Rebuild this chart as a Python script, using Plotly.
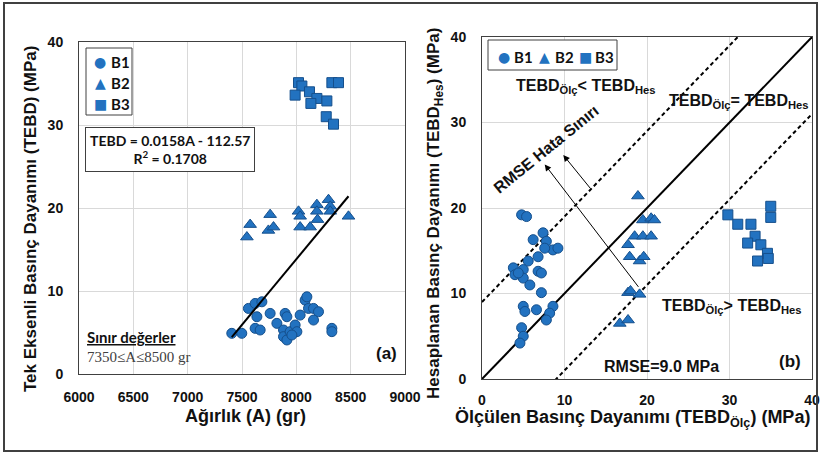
import plotly.graph_objects as go

# ---- (a) Weight vs. uniaxial compressive strength ----
a_b1 = [7406, 7498, 7559, 7621, 7683, 7637, 7621, 7667, 7759, 7821, 7897, 7913, 7882, 7882,
        7913, 7943, 7989, 8005, 8035, 8081, 8097, 8112, 8158, 8204, 8158, 8327, 8327, 7959]
s_b1 = [4.9, 4.9, 7.9, 8.5, 8.7, 6.9, 5.5, 5.3, 7.3, 6.1, 7.3, 6.9, 5.3, 4.5,
        4.1, 5.1, 5.9, 5.1, 7.1, 8.9, 9.3, 7.9, 7.9, 7.5, 6.5, 5.5, 5.1, 4.7]
a_b2 = [7545, 7575, 7743, 7759, 7790, 8020, 8035, 8035, 8127, 8189, 8189, 8195, 8296, 8312, 8312, 8480]
s_b2 = [16.5, 18.0, 17.3, 19.2, 17.7, 19.6, 19.0, 17.7, 17.7, 20.4, 19.6, 18.6, 21.0, 20.2, 19.6, 19.0]
a_b3 = [8020, 8051, 7989, 8121, 8189, 8134, 8281, 8275, 8342, 8327, 8388]
s_b3 = [35.1, 34.7, 33.6, 34.0, 33.2, 32.6, 32.9, 31.0, 30.1, 35.1, 35.1]

# linear fit TEBD = slope*A + intercept
slope = 0.0158
intercept = -112.57

# ---- (b) Measured vs. calculated strength ----
m_b1 = [4.8, 5.4, 7.4, 6.2, 7.8, 8.6, 9.2, 7.6, 6.8, 5.6, 3.8, 5.0, 4.0, 6.8,
        7.2, 5.0, 5.8, 7.2, 5.0, 5.2, 6.6, 8.6, 8.2, 7.8, 4.8, 5.0, 4.6, 4.4]
p_b1 = [19.2, 19.0, 17.1, 16.3, 16.1, 15.1, 15.3, 15.3, 14.3, 13.8, 13.0, 12.8, 12.2, 12.6,
        12.4, 11.8, 11.0, 10.1, 8.5, 7.9, 8.1, 8.5, 7.7, 6.9, 6.0, 5.0, 4.2, 12.4]
m_b2 = [18.9, 19.5, 20.5, 20.9, 18.5, 19.5, 20.5, 17.7, 17.9, 19.1, 19.6, 17.7, 18.0, 19.1, 16.7, 17.7]
p_b2 = [21.4, 18.6, 18.8, 18.6, 16.7, 16.7, 16.7, 15.7, 14.3, 13.8, 14.3, 10.1, 10.3, 9.9, 6.5, 6.9]
m_b3 = [29.8, 31.0, 32.6, 35.0, 35.0, 33.1, 32.2, 33.8, 34.6, 34.7, 33.4]
p_b3 = [19.2, 18.1, 18.1, 20.2, 18.9, 16.7, 15.9, 15.7, 14.7, 14.1, 13.8]

rmse = 9.0
x_ticks_a = [6000, 6500, 7000, 7500, 8000, 8500, 9000]
y_ticks = [0, 10, 20, 30, 40]
series_names = ["B1", "B2", "B3"]

W, H = 820, 454
BLUE = "#2272c0"
EDGE = "#154f8c"
TXT = "#111111"
SANS = "Liberation Sans"
CAL = "Lato"


def px(x):
    return x / W


def py(y):
    return 1 - y / H


symbols = [("circle", 10, "●"), ("triangle-up", 11, "▲"), ("square", 10, "■")]
data_a = [(a_b1, s_b1), (a_b2, s_b2), (a_b3, s_b3)]
data_b = [(m_b1, p_b1), (m_b2, p_b2), (m_b3, p_b3)]

fig = go.Figure()

for name, (sym, size, _), (xs, ys) in zip(series_names, symbols, data_a):
    fig.add_trace(go.Scatter(
        x=xs, y=ys, mode="markers", name=name, showlegend=False,
        marker=dict(symbol=sym, size=size, color=BLUE, line=dict(color=EDGE, width=1)),
        xaxis="x", yaxis="y"))

a_all = a_b1 + a_b2 + a_b3
fit_x = [min(a_all), max(a_all)]
fit_y = [slope * v + intercept for v in fit_x]
fig.add_trace(go.Scatter(x=fit_x, y=fit_y, mode="lines", showlegend=False,
                         line=dict(color="black", width=2), xaxis="x", yaxis="y"))

# reference lines in (b): 1:1 and +/- RMSE bands
line_x = [0, 40]
fig.add_trace(go.Scatter(x=line_x, y=line_x, mode="lines", showlegend=False,
                         line=dict(color="black", width=2), xaxis="x2", yaxis="y2"))
for off in (rmse, -rmse):
    fig.add_trace(go.Scatter(x=line_x, y=[v + off for v in line_x], mode="lines", showlegend=False,
                             line=dict(color="black", width=2, dash="4px,3px"),
                             xaxis="x2", yaxis="y2"))

for name, (sym, size, _), (xs, ys) in zip(series_names, symbols, data_b):
    fig.add_trace(go.Scatter(
        x=xs, y=ys, mode="markers", name=name, showlegend=False,
        marker=dict(symbol=sym, size=size, color=BLUE, line=dict(color=EDGE, width=1)),
        xaxis="x2", yaxis="y2"))

axis_common = dict(showgrid=True, gridcolor="#d9d9d9", gridwidth=1, zeroline=False,
                   showline=True, mirror=True, linecolor="#404040", linewidth=1,
                   ticks="", automargin=False,
                   tickfont=dict(family=SANS, size=14, color=TXT, weight="bold"))

fig.update_layout(
    width=W, height=H, margin=dict(l=0, r=0, t=0, b=0),
    paper_bgcolor="white", plot_bgcolor="white", showlegend=False,
    xaxis=dict(axis_common, domain=[px(79), px(405)], range=[6000, 9000],
               tickvals=x_ticks_a, anchor="y", ticklabelstandoff=10),
    yaxis=dict(axis_common, domain=[py(374), py(42)], range=[0, 40],
               tickvals=y_ticks, anchor="x", ticklabelstandoff=12),
    xaxis2=dict(axis_common, domain=[px(482), px(812)], range=[0, 40],
                tickvals=y_ticks, anchor="y2", ticklabelstandoff=8),
    yaxis2=dict(axis_common, domain=[py(379), py(37)], range=[0, 40],
                tickvals=y_ticks, anchor="x2", ticklabelstandoff=12),
)

ann = []


def label(text, x, y, size=16, family=SANS, bold=True, color=TXT, **kw):
    d = dict(text=text, x=x, y=y, showarrow=False,
             font=dict(family=family, size=size, color=color, weight="bold" if bold else "normal"))
    d.update(kw)
    ann.append(d)


# axis titles
label("Tek Eksenli Basınç Dayanımı (TEBD) (MPa)", px(30), py(219), size=17,
      xref="paper", yref="paper", xanchor="center", yanchor="middle", textangle=-90)
label("Ağırlık (A) (gr)", px(245), py(416), size=18,
      xref="paper", yref="paper", xanchor="center", yanchor="middle")
label("Hesaplanan Basınç Dayanımı (TEBD<sub>Hes</sub>) (MPa)", px(435), py(214), size=17,
      xref="paper", yref="paper", xanchor="center", yanchor="middle", textangle=-90)
label("Ölçülen Basınç Dayanımı (TEBD<sub>Ölç</sub>) (MPa)", px(453), py(418), size=18,
      xref="paper", yref="paper", xanchor="left", yanchor="middle")

# legends (boxed), vertical in (a) and horizontal in (b)
fig.add_shape(type="rect", xref="paper", yref="paper", x0=px(86), x1=px(132), y0=py(115), y1=py(48),
              line=dict(color="#404040", width=1), fillcolor="white", layer="above")
fig.add_shape(type="rect", xref="paper", yref="paper", x0=px(488), x1=px(617), y0=py(70), y1=py(40),
              line=dict(color="#404040", width=1), fillcolor="white", layer="above")
for i, (name, (_, _, glyph)) in enumerate(zip(series_names, symbols)):
    yy = 61.5 + i * 21.5
    label(glyph, px(100), py(yy), size=14, family="DejaVu Sans", bold=False, color=BLUE,
          xref="paper", yref="paper", xanchor="center", yanchor="middle")
    label(name, px(109), py(yy), size=15, family=CAL,
          xref="paper", yref="paper", xanchor="left", yanchor="middle")
    xx = 504 + i * 40.5
    label(glyph, px(xx), py(56.5), size=14, family="DejaVu Sans", bold=False, color=BLUE,
          xref="paper", yref="paper", xanchor="center", yanchor="middle")
    label(name, px(xx + 8), py(56.5), size=15, family=CAL,
          xref="paper", yref="paper", xanchor="left", yanchor="middle")

# (a) panel texts
label("TEBD = 0.0158A - 112.57<br>R<sup>2</sup> = 0.1708", 6838, 27.1, size=14, family=CAL,
      xref="x", yref="y", bordercolor="#404040", borderwidth=1, bgcolor="white", borderpad=4)
label("<u>Sınır değerler</u>", 6055, 4.5, size=15, family=CAL, xref="x", yref="y", xanchor="left")
label("7350≤A≤8500 gr", 6055, 2.05, size=15, family="Liberation Serif", bold=False,
      color="#404040", xref="x", yref="y", xanchor="left")
label("(a)", 8834, 2.5, size=17, xref="x", yref="y")

# (b) panel texts
label("TEBD<sub>Ölç</sub>< TEBD<sub>Hes</sub>", 12.6, 34.2, xref="x2", yref="y2")
label("TEBD<sub>Ölç</sub>= TEBD<sub>Hes</sub>", 31.1, 32.4, xref="x2", yref="y2")
label("TEBD<sub>Ölç</sub>> TEBD<sub>Hes</sub>", 30.2, 8.5, xref="x2", yref="y2")
label(f"RMSE={rmse:.1f} MPa", 21.8, 1.5, xref="x2", yref="y2")
label("(b)", 37.3, 2.1, size=17, xref="x2", yref="y2")
label("RMSE Hata Sınırı", 7.7, 26.9, xref="x2", yref="y2", textangle=-39)

# arrows pointing to the error band label
for tail, head in [((19.1, 10.6), (7.6, 25.1)), ((13.3, 22.1), (9.85, 26.2))]:
    ann.append(dict(text="", xref="x2", yref="y2", axref="x2", ayref="y2",
                    x=head[0], y=head[1], ax=tail[0], ay=tail[1], showarrow=True,
                    arrowhead=2, arrowsize=1.3, arrowwidth=1, arrowcolor="black"))

fig.update_layout(annotations=ann)

# outer frame of the figure
fig.add_shape(type="rect", xref="paper", yref="paper",
              x0=px(4), x1=px(817), y0=py(451), y1=py(3),
              line=dict(color="#404040", width=2), fillcolor="rgba(0,0,0,0)", layer="above")

fig.write_html("out.html")
